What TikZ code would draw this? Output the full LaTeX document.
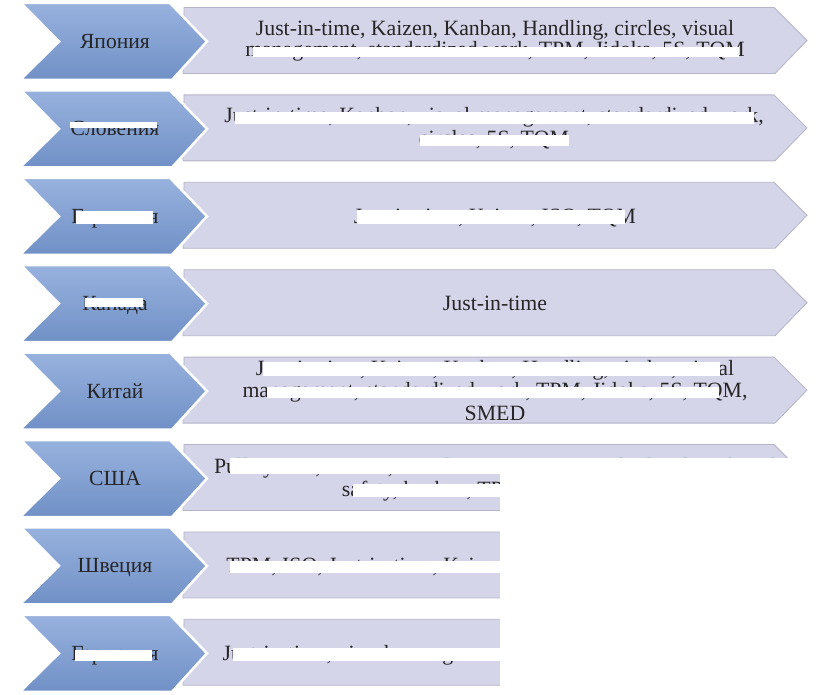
\documentclass[tikz,border=0pt]{standalone}
\usepackage{fontspec}
\setmainfont{Liberation Serif}
\definecolor{chevtop}{HTML}{98B2DE}
\definecolor{chevbot}{HTML}{7090C6}
\definecolor{lav}{HTML}{D5D5EA}
\definecolor{lavedge}{HTML}{B4B4C8}
\definecolor{ink}{HTML}{262626}
\tikzset{
  chevron/.style={top color=chevtop,bottom color=chevbot,draw=white,line width=2.5pt,line join=miter},
  lavbox/.style={fill=lav,draw=lavedge,line width=0.8pt},
  lbl/.style={font=\fontsize{21.6}{22.5}\selectfont,text=ink,inner sep=0pt,anchor=base},
  txt/.style={font=\fontsize{21.8}{22.5}\selectfont,text=ink,align=center,inner sep=0pt,anchor=base},
  redact/.style={fill=white}
}
\newcommand\rowshape[1]{%
  \path[lavbox] (184,#1+4.5) -- (774,#1+4.5) -- (807,#1+37.5) -- (775,#1+70.5) -- (183,#1+70.5) -- cycle;
  \path[chevron] (21,#1) -- (170,#1) -- (207,#1+38.5) -- (172,#1+77) -- (20,#1+77) -- (59,#1+38.5) -- cycle;
}
\begin{document}
\begin{tikzpicture}[x=1pt,y=-1pt]
\useasboundingbox (0,0) rectangle (824,695);
\rowshape{3}
\rowshape{90.4}
\rowshape{177.8}
\rowshape{265.2}
\rowshape{352.6}
\rowshape{440}
\rowshape{527.4}
\rowshape{614.8}
% labels (base line = row centre + 7)
\node[lbl] (l1) at (115,48.5) {Япония};
\node[lbl] (l2) at (115,135.9) {Словения};
\node[lbl] (l3) at (115,223.3) {Германия};
\node[lbl] (l4) at (115,310.7) {Канада};
\node[lbl] (l5) at (115,398.1) {Китай};
\node[lbl] (l6) at (115,485.5) {США};
\node[lbl] (l7) at (115,572.9) {Швеция};
\node[lbl] (l8) at (115,660.3) {Германия};
% texts (base line of the last line)
\node[txt] (t1) at (495,57) {Just-in-time, Kaizen, Kanban, Handling, circles, visual\\[-1pt]management, standardized work, TPM, Jidoka, 5S, TQM};
\node[txt] (t2) at (494,145.5) {Just-in-time, Kanban, visual management, standardized work,\\circles, 5S, TQM};
\node[txt] (t3) at (495,223) {Just-in-time, Kaizen, ISO, TQM};
\node[txt] (t4) at (495,310.7) {Just-in-time};
\node[txt] (t5) at (495,420) {Just-in-time, Kaizen, Kanban, Handling, circles, visual\\management, standardized work, TPM, Jidoka, 5S, TQM,\\SMED};
\node[txt] (t6) at (495,496) {Pull system, Kaizen, visual management, standardized work and\\safety, kanban, TPM, 5S, Handling};
\node[txt] (t7) at (495,572) {TPM, ISO, Just-in-time, Kaizen, Kanban, visual management};
\node[txt] (t8) at (495,660) {Just-in-time, visual management, standardized work, TPM, 5S};
% redactions as in the picture
\fill[redact] (253,47) rectangle (739,57.5);
\fill[redact] (70,122) rectangle (157,128);
\fill[redact] (235,112.5) rectangle (754,123.8);
\fill[redact] (420,135) rectangle (569,146);
\fill[redact] (76,211) rectangle (153,223.5);
\fill[redact] (357,210) rectangle (625,223.5);
\fill[redact] (85,298) rectangle (143,307);
\fill[redact] (263,362) rectangle (720,375.5);
\fill[redact] (267,386.5) rectangle (719,398);
\fill[redact] (230,458) rectangle (824,474);
\fill[redact] (353,484) rectangle (500,496.5);
\fill[redact] (500,460) rectangle (824,695);
\fill[redact] (230,561) rectangle (500,572.5);
\fill[redact] (75,650) rectangle (152,660.5);
\fill[redact] (233,648) rectangle (500,660.5);
\end{tikzpicture}
\end{document}
